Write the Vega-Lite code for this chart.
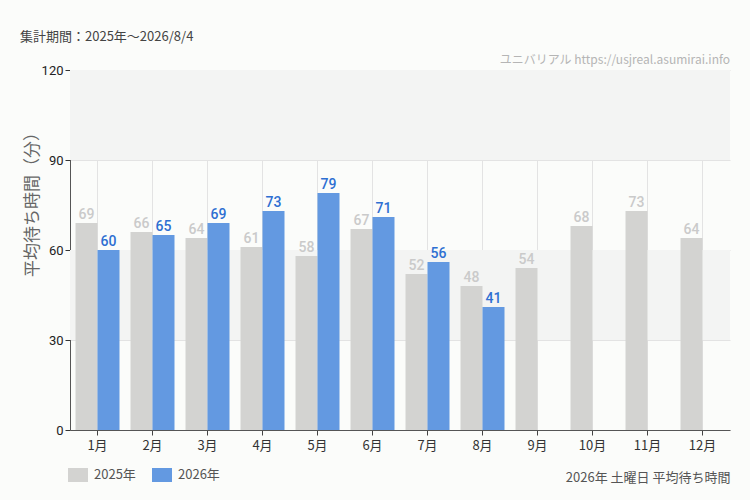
{
  "$schema": "https://vega.github.io/schema/vega-lite/v6.json",
  "width": 660,
  "height": 360,
  "autosize": {"type": "none"},
  "padding": {"left": 70, "top": 70, "right": 20, "bottom": 70},
  "background": "#fbfcfa",
  "title": {
    "text": "集計期間：2025年～2026/8/4",
    "anchor": "start",
    "frame": "group",
    "dx": -50,
    "offset": 22,
    "dy": 12,
    "fontSize": 13,
    "fontWeight": "normal",
    "color": "#444",
    "font": "Noto Sans CJK JP"
  },
  "datasets": {
    "waits": [
      {"month": "1月", "year": "2025年", "wait": 69},
      {"month": "2月", "year": "2025年", "wait": 66},
      {"month": "3月", "year": "2025年", "wait": 64},
      {"month": "4月", "year": "2025年", "wait": 61},
      {"month": "5月", "year": "2025年", "wait": 58},
      {"month": "6月", "year": "2025年", "wait": 67},
      {"month": "7月", "year": "2025年", "wait": 52},
      {"month": "8月", "year": "2025年", "wait": 48},
      {"month": "9月", "year": "2025年", "wait": 54},
      {"month": "10月", "year": "2025年", "wait": 68},
      {"month": "11月", "year": "2025年", "wait": 73},
      {"month": "12月", "year": "2025年", "wait": 64},
      {"month": "1月", "year": "2026年", "wait": 60},
      {"month": "2月", "year": "2026年", "wait": 65},
      {"month": "3月", "year": "2026年", "wait": 69},
      {"month": "4月", "year": "2026年", "wait": 73},
      {"month": "5月", "year": "2026年", "wait": 79},
      {"month": "6月", "year": "2026年", "wait": 71},
      {"month": "7月", "year": "2026年", "wait": 56},
      {"month": "8月", "year": "2026年", "wait": 41}
    ],
    "bands": [{"lo": 30, "hi": 60}, {"lo": 90, "hi": 120}],
    "note": [{"label": "ユニバリアル  https://usjreal.asumirai.info", "top": 120}]
  },
  "layer": [
    {
      "data": {"name": "bands"},
      "mark": {"type": "rect", "color": "#f3f4f3", "x": 0, "x2": {"expr": "width"}},
      "encoding": {
        "y": {
          "field": "lo",
          "type": "quantitative",
          "scale": {"domain": [0, 120]},
          "axis": {
            "title": "平均待ち時間（分）",
            "titleFontSize": 17,
            "titleFontWeight": "normal",
            "titleColor": "#666",
            "titleFont": "Noto Sans CJK JP",
            "titleX": -38,
            "titleY": 130,
            "titleAlign": "center",
            "titleBaseline": "middle",
            "values": [0, 30, 60, 90, 120],
            "labelFontSize": 13,
            "labelColor": "#222",
            "labelFont": "Roboto",
            "tickSize": 5,
            "tickColor": "#333",
            "domainColor": "#555",
            "grid": true,
            "gridColor": "#e3e3e3"
          }
        },
        "y2": {"field": "hi"}
      }
    },
    {
      "data": {"name": "waits"},
      "mark": {"type": "bar", "opacity": 1},
      "encoding": {
        "x": {
          "field": "month",
          "type": "nominal",
          "sort": null,
          "scale": {"paddingInner": 0.2, "paddingOuter": 0.1},
          "axis": {
            "title": "2026年 土曜日 平均待ち時間",
            "titleAnchor": "end",
            "titleAlign": "right",
            "titlePadding": 19,
            "titleFontSize": 13,
            "titleFontWeight": "normal",
            "titleColor": "#555",
            "titleFont": "Noto Sans CJK JP",
            "labelAngle": 0,
            "labelFontSize": 13,
            "labelColor": "#333",
            "labelFont": "Noto Sans CJK JP",
            "labelPadding": 4,
            "tickSize": 5,
            "tickColor": "#444",
            "domainColor": "#555",
            "grid": true,
            "gridColor": "#e3e3e3"
          }
        },
        "xOffset": {"field": "year", "type": "nominal", "scale": {"paddingInner": 0, "paddingOuter": 0}},
        "y": {"field": "wait", "type": "quantitative"},
        "color": {
          "field": "year",
          "type": "nominal",
          "scale": {"domain": ["2025年", "2026年"], "range": ["#d3d3d1", "#6399e1"]},
          "legend": {
            "title": null,
            "orient": "none",
            "legendX": -2,
            "legendY": 395,
            "direction": "horizontal",
            "symbolType": "M-1,-0.7H1V0.7H-1Z",
            "symbolSize": 400,
            "symbolStrokeWidth": 0,
            "symbolOpacity": 1,
            "labelFontSize": 13,
            "labelColor": "#555",
            "labelFont": "Noto Sans CJK JP",
            "labelOffset": 6,
            "columnPadding": 16
          }
        }
      }
    },
    {
      "data": {"name": "waits"},
      "mark": {"type": "text", "baseline": "bottom", "dy": -1, "fontSize": 14, "fontWeight": 500, "font": "Roboto, sans-serif"},
      "encoding": {
        "x": {"field": "month", "type": "nominal", "sort": null},
        "xOffset": {"field": "year", "type": "nominal"},
        "y": {"field": "wait", "type": "quantitative"},
        "text": {"field": "wait", "type": "quantitative"},
        "color": {
          "field": "year",
          "type": "nominal",
          "scale": {"domain": ["2025年", "2026年"], "range": ["#cacaca", "#2e6fd2"]},
          "legend": null
        }
      }
    },
    {
      "data": {"name": "note"},
      "mark": {"type": "text", "align": "right", "baseline": "bottom", "dy": -3, "x": {"expr": "width"}, "fontSize": 12, "color": "#b5b5b5", "font": "Noto Sans CJK JP"},
      "encoding": {
        "y": {"field": "top", "type": "quantitative"},
        "text": {"field": "label"}
      }
    }
  ],
  "resolve": {"scale": {"color": "independent"}},
  "config": {
    "view": {"stroke": null}
  }
}
